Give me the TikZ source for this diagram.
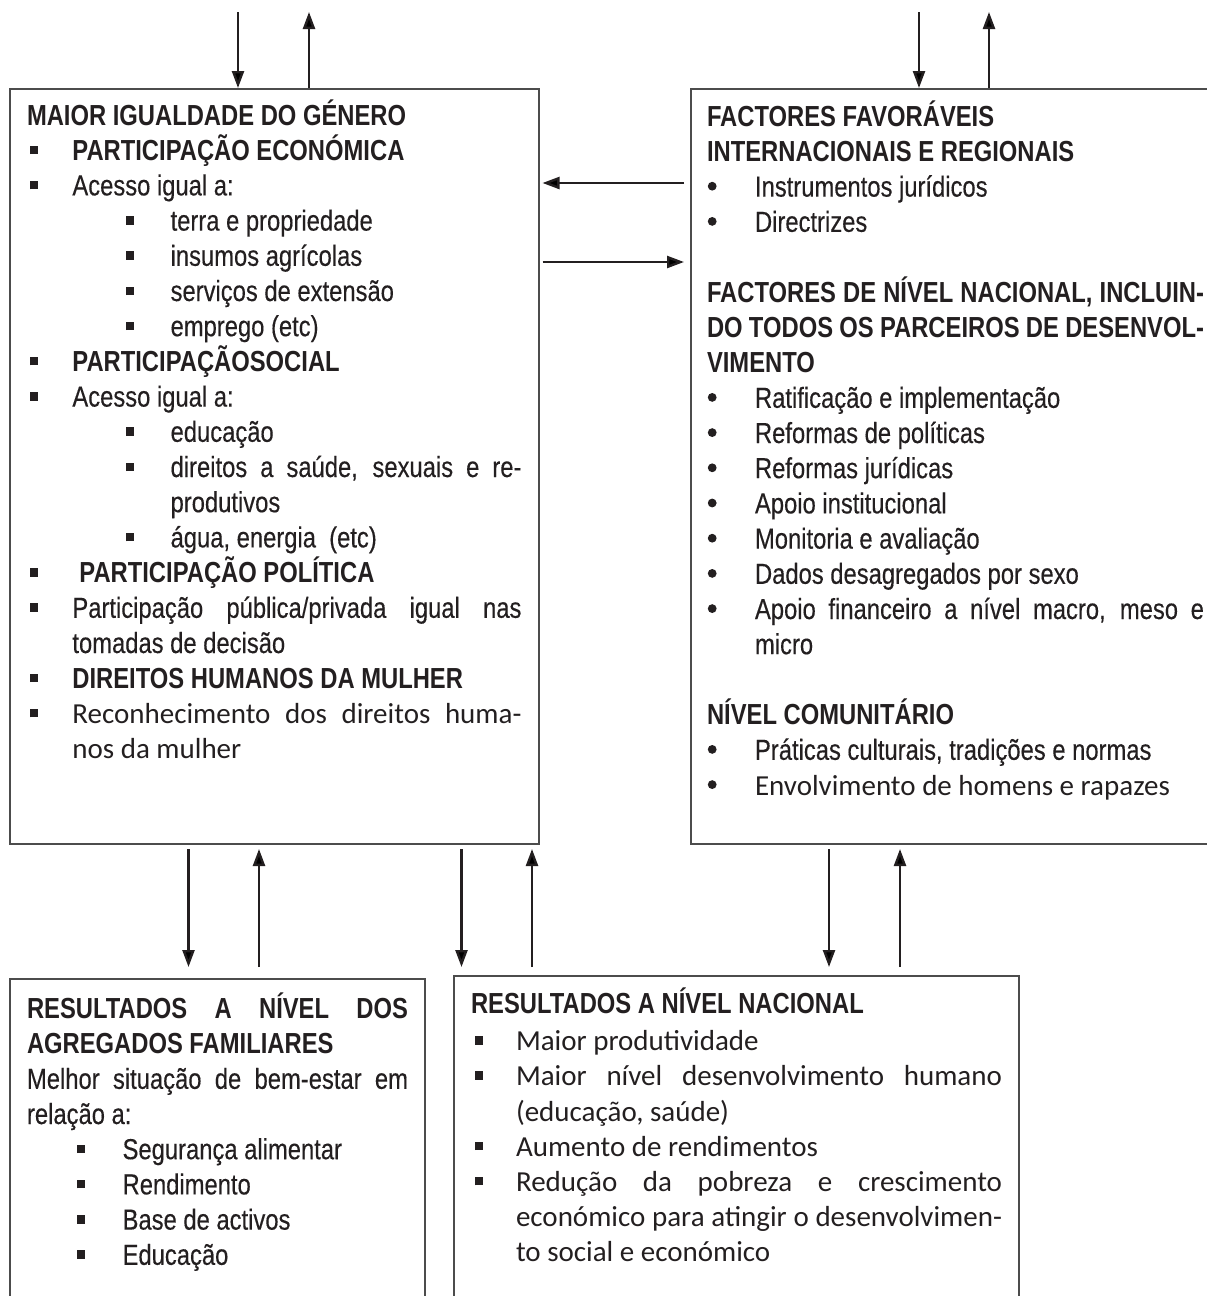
\documentclass[tikz,border=0pt]{standalone}
\usepackage{fontspec}
\setmainfont{Liberation Sans}[FakeStretch=0.82, UprightFeatures={FakeBold=0.3}]
\newfontfamily\calib{Carlito}
\usetikzlibrary{arrows.meta}
\definecolor{ink}{HTML}{231F20}

% bullets and line macros
\newcommand\sqb{\rule[3pt]{4.2pt}{4.2pt}}
\newcommand\rb{\tikz[baseline=-5.2pt]\fill[ink] (0,0) circle (2.2pt);}
\newcommand\justln[2]{\makebox[\dimexpr\linewidth-#1\relax][s]{#2}}
\newcommand\lnplain[2]{\par\noindent\hspace*{#1}#2}
\newcommand\lnsq[3]{\par\noindent\makebox[#2][l]{\hspace*{#1}\sqb}#3}
\newcommand\lndot[3]{\par\noindent\makebox[#2][l]{\hspace*{#1}\rb}#3}
\newcommand\lnblank{\par\vskip\baselineskip}
\newcommand\panelbody[4]{\begin{minipage}[t][#2][t]{#1}\fontsize{14.5}{17.6}\selectfont
  \null\vskip\dimexpr#3-\baselineskip\relax #4\end{minipage}}

\begin{document}
\begin{tikzpicture}[x=0.5pt,y=-0.5pt,
    panel/.style={draw=black!70, line width=1pt, anchor=north west,
      inner xsep=8.5pt, inner ysep=0pt, text=ink},
    arr/.style={-{Triangle[length=8.5pt,width=6pt]}, line width=1.2pt, draw=ink}]
  \useasboundingbox (0,0) rectangle (1206,1296);

  % gender equality box
  \node[panel] (gender) at (9,88) {\panelbody{247.25pt}{377.5pt}{18pt}{%
    \lnplain{0pt}{\textbf{MAIOR IGUALDADE DO GÉNERO}}
    \lnsq{1.3pt}{22.7pt}{\textbf{PARTICIPAÇÃO ECONÓMICA}}
    \lnsq{1.3pt}{22.7pt}{Acesso igual a:}
    \lnsq{49.5pt}{71.8pt}{terra e propriedade}
    \lnsq{49.5pt}{71.8pt}{insumos agrícolas}
    \lnsq{49.5pt}{71.8pt}{serviços de extensão}
    \lnsq{49.5pt}{71.8pt}{emprego (etc)}
    \lnsq{1.3pt}{22.7pt}{\textbf{PARTICIPAÇÃOSOCIAL}}
    \lnsq{1.3pt}{22.7pt}{Acesso igual a:}
    \lnsq{49.5pt}{71.8pt}{educação}
    \lnsq{49.5pt}{71.8pt}{\justln{71.8pt}{direitos a saúde, sexuais e re-}}
    \lnplain{71.8pt}{produtivos}
    \lnsq{49.5pt}{71.8pt}{água, energia\ \ (etc)}
    \lnsq{1.3pt}{22.7pt}{\hspace*{3.5pt}\textbf{PARTICIPAÇÃO POLÍTICA}}
    \lnsq{1.3pt}{22.7pt}{\justln{22.7pt}{Participação pública/privada igual nas}}
    \lnplain{22.7pt}{tomadas de decisão}
    \lnsq{1.3pt}{22.7pt}{\textbf{DIREITOS HUMANOS DA MULHER}}
    \lnsq{1.3pt}{22.7pt}{\justln{22.7pt}{\calib Reconhecimento dos direitos huma-}}
    \lnplain{22.7pt}{{\calib nos da mulher}}}};

  % enabling factors box
  \node[panel, inner xsep=8pt] (factors) at (690,88) {\panelbody{248.5pt}{377.5pt}{18.6pt}{%
    \lnplain{0pt}{\textbf{FACTORES FAVORÁVEIS}}
    \lnplain{0pt}{\textbf{INTERNACIONAIS E REGIONAIS}}
    \lndot{0.4pt}{24pt}{Instrumentos jurídicos}
    \lndot{0.4pt}{24pt}{Directrizes}
    \lnblank
    \lnplain{0pt}{\textbf{\justln{0pt}{FACTORES DE NÍVEL NACIONAL, INCLUIN-}}}
    \lnplain{0pt}{\textbf{\justln{0pt}{DO TODOS OS PARCEIROS DE DESENVOL-}}}
    \lnplain{0pt}{\textbf{VIMENTO}}
    \lndot{0.4pt}{24pt}{Ratificação e implementação}
    \lndot{0.4pt}{24pt}{Reformas de políticas}
    \lndot{0.4pt}{24pt}{Reformas jurídicas}
    \lndot{0.4pt}{24pt}{Apoio institucional}
    \lndot{0.4pt}{24pt}{Monitoria e avaliação}
    \lndot{0.4pt}{24pt}{Dados desagregados por sexo}
    \lndot{0.4pt}{24pt}{\justln{24pt}{Apoio financeiro a nível macro, meso e}}
    \lnplain{24pt}{micro}
    \lnblank
    \lnplain{0pt}{\textbf{NÍVEL COMUNITÁRIO}}
    \lndot{0.4pt}{24pt}{Práticas culturais, tradições e normas}
    \lndot{0.4pt}{24pt}{{\calib Envolvimento de homens e rapazes}}}};

  % household results
  \node[panel] (house) at (9,978) {\panelbody{190.5pt}{170pt}{19.7pt}{%
    \lnplain{0pt}{\textbf{\justln{0pt}{RESULTADOS A NÍVEL DOS}}}
    \lnplain{0pt}{\textbf{AGREGADOS FAMILIARES}}
    \lnplain{0pt}{\justln{0pt}{Melhor situação de bem-estar em}}
    \lnplain{0pt}{relação a:}
    \lnsq{25pt}{47.8pt}{Segurança alimentar}
    \lnsq{25pt}{47.8pt}{Rendimento}
    \lnsq{25pt}{47.8pt}{Base de activos}
    \lnsq{25pt}{47.8pt}{Educação}}};

  % national results
  \node[panel] (natl) at (453,975) {\panelbody{265.5pt}{170pt}{18.7pt}{%
    \lnplain{0pt}{\textbf{RESULTADOS A NÍVEL NACIONAL}}\vskip1pt
    \lnsq{2pt}{22.5pt}{{\calib Maior produtividade}}
    \lnsq{2pt}{22.5pt}{\justln{22.5pt}{\calib Maior nível desenvolvimento humano}}
    \lnplain{22.5pt}{{\calib (educação, saúde)}}
    \lnsq{2pt}{22.5pt}{{\calib Aumento de rendimentos}}
    \lnsq{2pt}{22.5pt}{\justln{22.5pt}{\calib Redução da pobreza e crescimento}}
    \lnplain{22.5pt}{\justln{22.5pt}{\calib económico para atingir o desenvolvimen-}}
    \lnplain{22.5pt}{{\calib to social e económico}}}};

  % free ends at the top
  \coordinate (gin) at (238,12);
  \coordinate (gout) at (309,12);
  \coordinate (fin) at (919,12);
  \coordinate (fout) at (989,12);
  \draw[arr] (gin) -- (gin |- gender.north);
  \draw[arr] (gout |- gender.north) -- (gout);
  \draw[arr] (fin) -- (fin |- factors.north);
  \draw[arr] (fout |- factors.north) -- (fout);

  % between the two upper boxes
  \coordinate (rowl) at (600,183);
  \coordinate (rowr) at (600,262);
  \draw[arr, shorten <=3pt, shorten >=1.5pt] (factors.west |- rowl) -- (gender.east |- rowl);
  \draw[arr, shorten <=1.5pt, shorten >=3pt] (gender.east |- rowr) -- (factors.west |- rowr);

  % down to the results
  \coordinate (c1) at (188.5,900);
  \coordinate (c2) at (259,900);
  \coordinate (c3) at (461.5,900);
  \coordinate (c4) at (532,900);
  \coordinate (c5) at (829,900);
  \coordinate (c6) at (900,900);
  \draw[arr, shorten <=2pt, shorten >=5.5pt] (gender.south -| c1) -- (house.north -| c1);
  \draw[arr, shorten <=5.5pt, shorten >=2pt] (house.north -| c2) -- (gender.south -| c2);
  \draw[arr, shorten <=2pt, shorten >=4pt] (gender.south -| c3) -- (natl.north -| c3);
  \draw[arr, shorten <=4pt, shorten >=2pt] (natl.north -| c4) -- (gender.south -| c4);
  \draw[arr, shorten <=2pt, shorten >=4pt] (factors.south -| c5) -- (natl.north -| c5);
  \draw[arr, shorten <=4pt, shorten >=2pt] (natl.north -| c6) -- (factors.south -| c6);
\end{tikzpicture}
\end{document}
